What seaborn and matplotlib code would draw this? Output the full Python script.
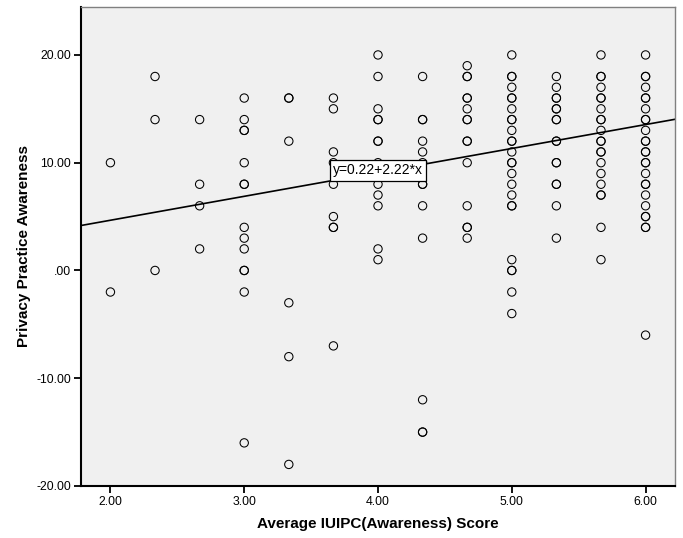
import numpy as np
import pandas as pd
import matplotlib
matplotlib.use("Agg")
import matplotlib.pyplot as plt
import seaborn as sns

# Average IUIPC awareness score levels (x) and the privacy practice
# awareness scores observed at each level (y); repeated values are repeated respondents.
awareness_levels = [2.0, 7 / 3, 8 / 3, 3.0, 10 / 3, 11 / 3, 4.0, 13 / 3, 14 / 3, 5.0, 16 / 3, 17 / 3, 6.0]

practice_at_2_00 = [10, -2]
practice_at_2_33 = [18, 14, 0]
practice_at_2_67 = [14, 8, 6, 2]
practice_at_3_00 = [16, 14, 13, 13, 10, 8, 8, 4, 3, 2, 0, 0, -2, -16]
practice_at_3_33 = [16, 16, 12, -3, -8, -18]
practice_at_3_67 = [16, 15, 11, 10, 8, 5, 4, 4, -7]
practice_at_4_00 = [20, 18, 15, 14, 14, 12, 12, 10, 8, 7, 6, 2, 1]
practice_at_4_33 = [18, 14, 14, 12, 11, 10, 8, 8, 6, 3, -12, -15, -15]
practice_at_4_67 = [19, 18, 18, 16, 16, 15, 14, 14, 12, 12, 10, 6, 4, 4, 3]
practice_at_5_00 = [20, 18, 18, 17, 16, 16, 15, 14, 14, 13, 12, 12, 11, 10, 10,
                    9, 8, 7, 6, 6, 1, 0, 0, -2, -4]
practice_at_5_33 = [18, 17, 16, 16, 15, 15, 14, 14, 12, 12, 10, 10, 8, 8, 6, 3]
practice_at_5_67 = [20, 18, 18, 17, 16, 16, 15, 14, 14, 13, 12, 12, 11, 11, 10,
                    9, 8, 7, 7, 4, 1]
practice_at_6_00 = [20, 18, 18, 17, 16, 16, 15, 14, 14, 13, 12, 12, 11, 11, 10,
                    10, 9, 8, 8, 7, 6, 5, 5, 4, 4, -6]

practice_by_level = [
    practice_at_2_00, practice_at_2_33, practice_at_2_67, practice_at_3_00,
    practice_at_3_33, practice_at_3_67, practice_at_4_00, practice_at_4_33,
    practice_at_4_67, practice_at_5_00, practice_at_5_33, practice_at_5_67,
    practice_at_6_00,
]

# Fitted linear regression
fit_intercept = 0.22
fit_slope = 2.22
fit_label = "y=0.22+2.22*x"

x_ticks = [2.0, 3.0, 4.0, 5.0, 6.0]
x_tick_labels = ["2.00", "3.00", "4.00", "5.00", "6.00"]
y_ticks = [-20, -10, 0, 10, 20]
y_tick_labels = ["-20.00", "-10.00", ".00", "10.00", "20.00"]

x_title = "Average IUIPC(Awareness) Score"
y_title = "Privacy Practice Awareness"

df = pd.DataFrame(
    [(lvl, v) for lvl, vals in zip(awareness_levels, practice_by_level) for v in vals],
    columns=["awareness", "practice"],
)

sns.set_style("white")
plt.rcParams["font.family"] = ["Liberation Sans", "DejaVu Sans"]
plt.rcParams.update({
    "text.color": "black",
    "axes.labelcolor": "black",
    "xtick.color": "black",
    "ytick.color": "black",
})

fig = plt.figure(figsize=(6.83, 5.38), dpi=100)
ax = fig.add_axes([0.1186, 0.0967, 0.8697, 0.8903])
ax.set_facecolor("#f0f0f0")

x_min, x_max = 1.78, 6.22
y_min, y_max = -20, 24.45

# Regression line across the full x range
line_x = np.array([x_min, x_max])
ax.plot(line_x, fit_intercept + fit_slope * line_x, color="black", lw=1.2, zorder=2)

sns.scatterplot(
    data=df, x="awareness", y="practice", ax=ax,
    marker="o", s=36, facecolors="none", edgecolor="black", linewidth=0.75,
    zorder=3, legend=False,
)

label_x = 4.0
ax.text(
    label_x, fit_intercept + fit_slope * label_x + 0.2, fit_label,
    ha="center", va="center", fontsize=10, color="black", zorder=5,
    bbox=dict(boxstyle="square,pad=0.25", fc="white", ec="black", lw=0.9),
)

ax.set_xlim(x_min, x_max)
ax.set_ylim(y_min, y_max)
ax.set_xticks(x_ticks)
ax.set_xticklabels(x_tick_labels)
ax.set_yticks(y_ticks)
ax.set_yticklabels(y_tick_labels)
ax.tick_params(axis="both", which="major", direction="out", length=5, width=1.3,
               color="black", labelcolor="black", labelsize=8.8, pad=2,
               bottom=True, left=True)

ax.set_xlabel(x_title, fontsize=11, fontweight="bold", labelpad=7)
ax.set_ylabel(y_title, fontsize=11, fontweight="bold", labelpad=4)

for side in ["left", "bottom"]:
    ax.spines[side].set_color("black")
    ax.spines[side].set_linewidth(1.5)
for side in ["top", "right"]:
    ax.spines[side].set_color("#808080")
    ax.spines[side].set_linewidth(1.0)

fig.savefig("out.png", dpi=100, facecolor="white")
